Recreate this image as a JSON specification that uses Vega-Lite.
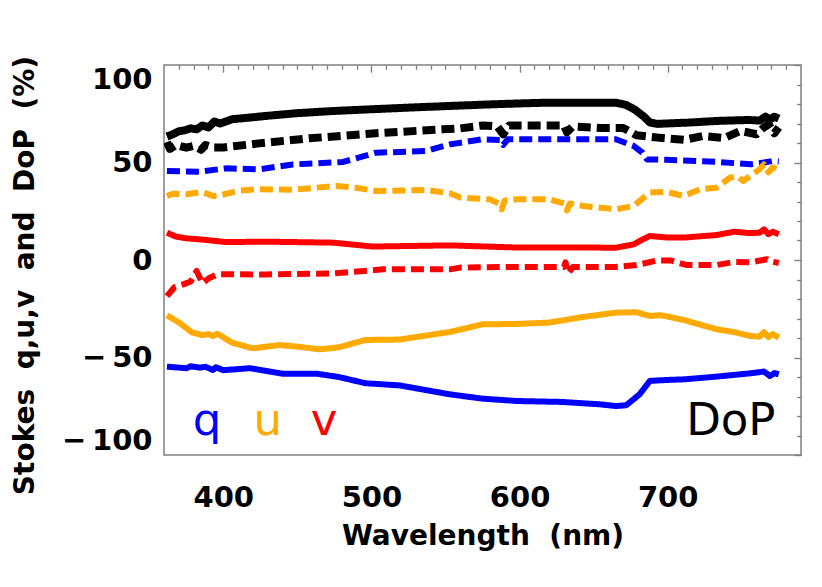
{
  "$schema": "https://vega.github.io/schema/vega-lite/v6.json",
  "width": 637,
  "height": 390,
  "autosize": "none",
  "padding": {"left": 164, "top": 65, "right": 21, "bottom": 132},
  "background": "white",
  "config": {
    "view": {"stroke": "#808080", "strokeWidth": 1.5},
    "axis": {"grid": false, "domain": false, "tickColor": "#808080", "tickWidth": 1.2,
             "labelFont": "DejaVu Sans", "labelFontWeight": "bold", "labelFontSize": 29, "labelColor": "black",
             "titleFont": "DejaVu Sans", "titleFontWeight": "bold", "titleFontSize": 28, "titleColor": "black"}
  },
  "datasets": {
    "lines": [
      {"wl":362,"val":63.3,"param":"DoP","set":"a"},{"wl":366,"val":64.5,"param":"DoP","set":"a"},{"wl":370,"val":66,"param":"DoP","set":"a"},{"wl":374,"val":66.5,"param":"DoP","set":"a"},{"wl":378,"val":67.5,"param":"DoP","set":"a"},{"wl":382,"val":67,"param":"DoP","set":"a"},{"wl":386,"val":69,"param":"DoP","set":"a"},{"wl":390,"val":68,"param":"DoP","set":"a"},{"wl":394,"val":71,"param":"DoP","set":"a"},{"wl":398,"val":70,"param":"DoP","set":"a"},{"wl":406,"val":72.2,"param":"DoP","set":"a"},{"wl":420,"val":73.2,"param":"DoP","set":"a"},{"wl":429,"val":73.9,"param":"DoP","set":"a"},{"wl":450,"val":75.3,"param":"DoP","set":"a"},{"wl":474,"val":76.4,"param":"DoP","set":"a"},{"wl":500,"val":77.3,"param":"DoP","set":"a"},{"wl":530,"val":78.3,"param":"DoP","set":"a"},{"wl":553,"val":79,"param":"DoP","set":"a"},{"wl":580,"val":79.8,"param":"DoP","set":"a"},{"wl":600,"val":80.3,"param":"DoP","set":"a"},{"wl":620,"val":80.7,"param":"DoP","set":"a"},{"wl":640,"val":80.7,"param":"DoP","set":"a"},{"wl":665,"val":80.7,"param":"DoP","set":"a"},{"wl":672,"val":79.5,"param":"DoP","set":"a"},{"wl":678,"val":77,"param":"DoP","set":"a"},{"wl":684,"val":73.5,"param":"DoP","set":"a"},{"wl":688,"val":70.5,"param":"DoP","set":"a"},{"wl":693,"val":69.8,"param":"DoP","set":"a"},{"wl":699,"val":70,"param":"DoP","set":"a"},{"wl":715,"val":70.5,"param":"DoP","set":"a"},{"wl":733,"val":71.3,"param":"DoP","set":"a"},{"wl":745,"val":71.6,"param":"DoP","set":"a"},{"wl":755,"val":71.8,"param":"DoP","set":"a"},{"wl":762,"val":71.5,"param":"DoP","set":"a"},{"wl":766,"val":73.5,"param":"DoP","set":"a"},{"wl":769,"val":72,"param":"DoP","set":"a"},{"wl":772,"val":73.5,"param":"DoP","set":"a"},{"wl":775,"val":72.5,"param":"DoP","set":"a"},

      {"wl":362,"val":60.5,"param":"DoP","set":"b"},{"wl":364,"val":57,"param":"DoP","set":"b"},{"wl":368,"val":59,"param":"DoP","set":"b"},{"wl":375,"val":57.6,"param":"DoP","set":"b"},{"wl":380,"val":58.5,"param":"DoP","set":"b"},{"wl":385,"val":56.5,"param":"DoP","set":"b"},{"wl":388,"val":59,"param":"DoP","set":"b"},{"wl":393,"val":57.7,"param":"DoP","set":"b"},{"wl":400,"val":57.7,"param":"DoP","set":"b"},{"wl":424,"val":59.8,"param":"DoP","set":"b"},{"wl":458,"val":62.4,"param":"DoP","set":"b"},{"wl":503,"val":65,"param":"DoP","set":"b"},{"wl":548,"val":67,"param":"DoP","set":"b"},{"wl":560,"val":67.5,"param":"DoP","set":"b"},{"wl":575,"val":69,"param":"DoP","set":"b"},{"wl":585,"val":68.5,"param":"DoP","set":"b"},{"wl":589,"val":64.5,"param":"DoP","set":"b"},{"wl":593,"val":69,"param":"DoP","set":"b"},{"wl":620,"val":69,"param":"DoP","set":"b"},{"wl":630,"val":69,"param":"DoP","set":"b"},{"wl":632,"val":65.5,"param":"DoP","set":"b"},{"wl":636,"val":68.5,"param":"DoP","set":"b"},{"wl":655,"val":67.7,"param":"DoP","set":"b"},{"wl":670,"val":67.7,"param":"DoP","set":"b"},{"wl":679,"val":64,"param":"DoP","set":"b"},{"wl":693,"val":62.8,"param":"DoP","set":"b"},{"wl":711,"val":61.6,"param":"DoP","set":"b"},{"wl":724,"val":63.6,"param":"DoP","set":"b"},{"wl":738,"val":62.5,"param":"DoP","set":"b"},{"wl":749,"val":66.2,"param":"DoP","set":"b"},{"wl":760,"val":64.5,"param":"DoP","set":"b"},{"wl":765,"val":68,"param":"DoP","set":"b"},{"wl":768,"val":69.6,"param":"DoP","set":"b"},{"wl":772,"val":65,"param":"DoP","set":"b"},{"wl":775,"val":68,"param":"DoP","set":"b"},

      {"wl":362,"val":45.6,"param":"q","set":"b"},{"wl":384,"val":45.3,"param":"q","set":"b"},{"wl":402,"val":47,"param":"q","set":"b"},{"wl":424,"val":46.5,"param":"q","set":"b"},{"wl":447,"val":49,"param":"q","set":"b"},{"wl":481,"val":50.3,"param":"q","set":"b"},{"wl":503,"val":55,"param":"q","set":"b"},{"wl":537,"val":55.9,"param":"q","set":"b"},{"wl":553,"val":59.3,"param":"q","set":"b"},{"wl":575,"val":61.9,"param":"q","set":"b"},{"wl":587,"val":61.5,"param":"q","set":"b"},{"wl":589,"val":59,"param":"q","set":"b"},{"wl":592,"val":61.9,"param":"q","set":"b"},{"wl":620,"val":61.9,"param":"q","set":"b"},{"wl":665,"val":61.9,"param":"q","set":"b"},{"wl":677,"val":58.5,"param":"q","set":"b"},{"wl":683,"val":55,"param":"q","set":"b"},{"wl":686,"val":51.6,"param":"q","set":"b"},{"wl":699,"val":51.4,"param":"q","set":"b"},{"wl":733,"val":50.3,"param":"q","set":"b"},{"wl":756,"val":49.1,"param":"q","set":"b"},{"wl":765,"val":50,"param":"q","set":"b"},{"wl":771,"val":50.8,"param":"q","set":"b"},{"wl":775,"val":50.5,"param":"q","set":"b"},

      {"wl":362,"val":32.8,"param":"u","set":"b"},{"wl":366,"val":34,"param":"u","set":"b"},{"wl":375,"val":33.7,"param":"u","set":"b"},{"wl":386,"val":34.9,"param":"u","set":"b"},{"wl":393,"val":32.8,"param":"u","set":"b"},{"wl":397,"val":33,"param":"u","set":"b"},{"wl":410,"val":35.5,"param":"u","set":"b"},{"wl":424,"val":36.3,"param":"u","set":"b"},{"wl":447,"val":36,"param":"u","set":"b"},{"wl":476,"val":38,"param":"u","set":"b"},{"wl":490,"val":37,"param":"u","set":"b"},{"wl":503,"val":35.4,"param":"u","set":"b"},{"wl":537,"val":35.9,"param":"u","set":"b"},{"wl":553,"val":34.2,"param":"u","set":"b"},{"wl":560,"val":32,"param":"u","set":"b"},{"wl":580,"val":31.1,"param":"u","set":"b"},{"wl":586,"val":29,"param":"u","set":"b"},{"wl":588,"val":26,"param":"u","set":"b"},{"wl":590,"val":30.5,"param":"u","set":"b"},{"wl":598,"val":31.1,"param":"u","set":"b"},{"wl":620,"val":31.1,"param":"u","set":"b"},{"wl":630,"val":29,"param":"u","set":"b"},{"wl":632,"val":25.5,"param":"u","set":"b"},{"wl":634,"val":29,"param":"u","set":"b"},{"wl":643,"val":27.7,"param":"u","set":"b"},{"wl":665,"val":26,"param":"u","set":"b"},{"wl":677,"val":27.7,"param":"u","set":"b"},{"wl":688,"val":34.6,"param":"u","set":"b"},{"wl":699,"val":35,"param":"u","set":"b"},{"wl":711,"val":32.8,"param":"u","set":"b"},{"wl":722,"val":36.3,"param":"u","set":"b"},{"wl":733,"val":37.1,"param":"u","set":"b"},{"wl":742,"val":42.2,"param":"u","set":"b"},{"wl":747,"val":43,"param":"u","set":"b"},{"wl":751,"val":40.5,"param":"u","set":"b"},{"wl":762,"val":46.5,"param":"u","set":"b"},{"wl":765,"val":49,"param":"u","set":"b"},{"wl":768,"val":45,"param":"u","set":"b"},{"wl":771,"val":47.5,"param":"u","set":"b"},{"wl":775,"val":46,"param":"u","set":"b"},

      {"wl":362,"val":14,"param":"v","set":"a"},{"wl":368,"val":12,"param":"v","set":"a"},{"wl":375,"val":11.1,"param":"v","set":"a"},{"wl":384,"val":10.6,"param":"v","set":"a"},{"wl":402,"val":9.2,"param":"v","set":"a"},{"wl":429,"val":9.4,"param":"v","set":"a"},{"wl":474,"val":8.9,"param":"v","set":"a"},{"wl":501,"val":6.9,"param":"v","set":"a"},{"wl":553,"val":7.5,"param":"v","set":"a"},{"wl":598,"val":6.4,"param":"v","set":"a"},{"wl":643,"val":6.4,"param":"v","set":"a"},{"wl":665,"val":6.3,"param":"v","set":"a"},{"wl":677,"val":8,"param":"v","set":"a"},{"wl":683,"val":10.5,"param":"v","set":"a"},{"wl":688,"val":12.3,"param":"v","set":"a"},{"wl":700,"val":11.5,"param":"v","set":"a"},{"wl":711,"val":11.5,"param":"v","set":"a"},{"wl":733,"val":12.8,"param":"v","set":"a"},{"wl":745,"val":14.5,"param":"v","set":"a"},{"wl":755,"val":13.8,"param":"v","set":"a"},{"wl":762,"val":14,"param":"v","set":"a"},{"wl":765,"val":15.7,"param":"v","set":"a"},{"wl":768,"val":13.2,"param":"v","set":"a"},{"wl":771,"val":14.5,"param":"v","set":"a"},{"wl":775,"val":13.2,"param":"v","set":"a"},

      {"wl":362,"val":-18.5,"param":"v","set":"b"},{"wl":367,"val":-14,"param":"v","set":"b"},{"wl":373,"val":-12.5,"param":"v","set":"b"},{"wl":378,"val":-11,"param":"v","set":"b"},{"wl":382,"val":-5.6,"param":"v","set":"b"},{"wl":386,"val":-12,"param":"v","set":"b"},{"wl":390,"val":-9.5,"param":"v","set":"b"},{"wl":396,"val":-7.3,"param":"v","set":"b"},{"wl":429,"val":-7.4,"param":"v","set":"b"},{"wl":474,"val":-6.9,"param":"v","set":"b"},{"wl":508,"val":-4.8,"param":"v","set":"b"},{"wl":553,"val":-4.8,"param":"v","set":"b"},{"wl":560,"val":-3.9,"param":"v","set":"b"},{"wl":587,"val":-3.6,"param":"v","set":"b"},{"wl":630,"val":-3.6,"param":"v","set":"b"},{"wl":631,"val":-1.2,"param":"v","set":"b"},{"wl":633,"val":-6.8,"param":"v","set":"b"},{"wl":636,"val":-3.6,"param":"v","set":"b"},{"wl":665,"val":-3.6,"param":"v","set":"b"},{"wl":679,"val":-2.6,"param":"v","set":"b"},{"wl":693,"val":-0.2,"param":"v","set":"b"},{"wl":702,"val":-0.2,"param":"v","set":"b"},{"wl":713,"val":-2.6,"param":"v","set":"b"},{"wl":733,"val":-2.6,"param":"v","set":"b"},{"wl":745,"val":-1,"param":"v","set":"b"},{"wl":756,"val":-1.2,"param":"v","set":"b"},{"wl":767,"val":0.4,"param":"v","set":"b"},{"wl":770,"val":-0.8,"param":"v","set":"b"},{"wl":775,"val":-1.5,"param":"v","set":"b"},

      {"wl":362,"val":-28.4,"param":"u","set":"a"},{"wl":370,"val":-32,"param":"u","set":"a"},{"wl":379,"val":-37.2,"param":"u","set":"a"},{"wl":386,"val":-38.5,"param":"u","set":"a"},{"wl":390,"val":-38,"param":"u","set":"a"},{"wl":393,"val":-39,"param":"u","set":"a"},{"wl":396,"val":-37.8,"param":"u","set":"a"},{"wl":406,"val":-42.4,"param":"u","set":"a"},{"wl":420,"val":-45.3,"param":"u","set":"a"},{"wl":438,"val":-43.6,"param":"u","set":"a"},{"wl":451,"val":-44.5,"param":"u","set":"a"},{"wl":465,"val":-45.8,"param":"u","set":"a"},{"wl":478,"val":-44.8,"param":"u","set":"a"},{"wl":496,"val":-41,"param":"u","set":"a"},{"wl":519,"val":-40.8,"param":"u","set":"a"},{"wl":553,"val":-36.9,"param":"u","set":"a"},{"wl":575,"val":-33,"param":"u","set":"a"},{"wl":598,"val":-32.8,"param":"u","set":"a"},{"wl":620,"val":-32.1,"param":"u","set":"a"},{"wl":643,"val":-29.2,"param":"u","set":"a"},{"wl":665,"val":-27,"param":"u","set":"a"},{"wl":679,"val":-26.8,"param":"u","set":"a"},{"wl":688,"val":-28.7,"param":"u","set":"a"},{"wl":695,"val":-28.3,"param":"u","set":"a"},{"wl":700,"val":-29,"param":"u","set":"a"},{"wl":711,"val":-30.8,"param":"u","set":"a"},{"wl":733,"val":-35.5,"param":"u","set":"a"},{"wl":745,"val":-37,"param":"u","set":"a"},{"wl":756,"val":-39,"param":"u","set":"a"},{"wl":762,"val":-39.3,"param":"u","set":"a"},{"wl":765,"val":-37,"param":"u","set":"a"},{"wl":768,"val":-39.5,"param":"u","set":"a"},{"wl":771,"val":-38,"param":"u","set":"a"},{"wl":775,"val":-39.8,"param":"u","set":"a"},

      {"wl":362,"val":-54.7,"param":"q","set":"a"},{"wl":375,"val":-55.5,"param":"q","set":"a"},{"wl":378,"val":-54.5,"param":"q","set":"a"},{"wl":384,"val":-55.2,"param":"q","set":"a"},{"wl":388,"val":-54.8,"param":"q","set":"a"},{"wl":393,"val":-56.4,"param":"q","set":"a"},{"wl":395,"val":-55,"param":"q","set":"a"},{"wl":400,"val":-56.5,"param":"q","set":"a"},{"wl":418,"val":-55.5,"param":"q","set":"a"},{"wl":440,"val":-58.3,"param":"q","set":"a"},{"wl":463,"val":-58.3,"param":"q","set":"a"},{"wl":478,"val":-60,"param":"q","set":"a"},{"wl":496,"val":-63.2,"param":"q","set":"a"},{"wl":519,"val":-64.3,"param":"q","set":"a"},{"wl":553,"val":-68.9,"param":"q","set":"a"},{"wl":575,"val":-71.1,"param":"q","set":"a"},{"wl":598,"val":-72.3,"param":"q","set":"a"},{"wl":629,"val":-72.8,"param":"q","set":"a"},{"wl":654,"val":-74,"param":"q","set":"a"},{"wl":665,"val":-74.9,"param":"q","set":"a"},{"wl":672,"val":-74.5,"param":"q","set":"a"},{"wl":681,"val":-68.9,"param":"q","set":"a"},{"wl":688,"val":-62,"param":"q","set":"a"},{"wl":700,"val":-61.5,"param":"q","set":"a"},{"wl":711,"val":-61.2,"param":"q","set":"a"},{"wl":733,"val":-59.8,"param":"q","set":"a"},{"wl":756,"val":-58.1,"param":"q","set":"a"},{"wl":765,"val":-57.2,"param":"q","set":"a"},{"wl":769,"val":-59.5,"param":"q","set":"a"},{"wl":772,"val":-58,"param":"q","set":"a"},{"wl":775,"val":-58.6,"param":"q","set":"a"}
    ],
    "labels": [
      {"wl":389,"val":-89.5,"txt":"q","param":"q"},
      {"wl":430,"val":-89.5,"txt":"u","param":"u"},
      {"wl":468,"val":-89.5,"txt":"v","param":"v"},
      {"wl":742.6,"val":-89.7,"txt":"DoP","param":"DoP"}
    ]
  },
  "resolve": {"axis": {"x": "independent", "y": "independent"}},
  "layer": [
    {
      "data": {"name": "lines"},
      "transform": [{"filter": "datum.param !== 'DoP'"}],
      "mark": {"type": "line", "strokeJoin": "round", "clip": true, "strokeWidth": 6},
      "encoding": {
        "x": {"field": "wl", "type": "quantitative",
              "scale": {"domain": [360, 790], "nice": false, "zero": false},
              "axis": {"values": [400, 500, 600, 700], "ticks": false, "labelPadding": 51, "labelBaseline": "alphabetic",
                       "title": "Wavelength\u00a0\u00a0(nm)", "titleBaseline": "alphabetic", "titleY": 89}},
        "y": {"field": "val", "type": "quantitative",
              "scale": {"domain": [-100, 100], "nice": false, "zero": false},
              "axis": {"values": [-100, -50, 0, 50, 100], "ticks": false, "labelPadding": 12, "labelFlush": true,
                       "labelExpr": "datum.value < 0 ? '\u2212\u2009' + format(-datum.value, 'd') : format(datum.value, 'd')",
                       "title": "Stokes\u00a0\u00a0q,u,v\u00a0\u00a0and\u00a0\u00a0DoP\u00a0\u00a0(%)", "titleAngle": -90, "titleBaseline": "alphabetic", "titleX": -131, "titleY": 210}},
        "color": {"field": "param", "type": "nominal",
                  "scale": {"domain": ["q", "u", "v", "DoP"], "range": ["#0000ff", "#ffaa00", "#ff0000", "#000000"]}, "legend": null},
        "strokeDash": {"field": "set", "type": "nominal",
                       "scale": {"domain": ["a", "b"], "range": [[1, 0], [13, 6]]}, "legend": null}
      }
    },
    {
      "data": {"name": "lines"},
      "transform": [{"filter": "datum.param === 'DoP'"}],
      "mark": {"type": "line", "strokeJoin": "round", "clip": true, "strokeWidth": 8, "color": "#000000"},
      "encoding": {
        "x": {"field": "wl", "type": "quantitative", "axis": null},
        "y": {"field": "val", "type": "quantitative", "axis": null},
        "strokeDash": {"field": "set", "type": "nominal",
                       "scale": {"domain": ["a", "b"], "range": [[1, 0], [10, 8]]}, "legend": null}
      }
    },
    {
      "data": {"name": "labels"},
      "mark": {"type": "text", "font": "DejaVu Sans", "fontSize": 45, "align": "center", "baseline": "alphabetic"},
      "encoding": {
        "x": {"field": "wl", "type": "quantitative", "axis": null},
        "y": {"field": "val", "type": "quantitative", "axis": null},
        "text": {"field": "txt"},
        "color": {"field": "param", "type": "nominal", "legend": null}
      }
    },
    {
      "data": {"name": "labels"},
      "mark": {"type": "point", "opacity": 0},
      "encoding": {
        "x": {"field": "wl", "type": "quantitative",
              "axis": {"values": [400, 500, 600, 700], "tickSize": -7, "labels": false, "title": null}},
        "y": {"field": "val", "type": "quantitative",
              "axis": {"values": [-100, -50, 0, 50, 100], "tickSize": -7, "labels": false, "title": null}}
      }
    },
    {
      "data": {"name": "labels"},
      "mark": {"type": "point", "opacity": 0},
      "encoding": {
        "x": {"field": "wl", "type": "quantitative",
              "axis": {"values": [370,380,390,410,420,430,440,450,460,470,480,490,510,520,530,540,550,560,570,580,590,610,620,630,640,650,660,670,680,690,710,720,730,740,750,760,770,780], "tickSize": -4, "labels": false, "title": null}},
        "y": {"field": "val", "type": "quantitative",
              "axis": {"values": [-90,-80,-70,-60,-40,-30,-20,-10,10,20,30,40,60,70,80,90], "tickSize": -4, "labels": false, "title": null}}
      }
    },
    {
      "data": {"name": "labels"},
      "mark": {"type": "point", "opacity": 0},
      "encoding": {
        "x": {"field": "wl", "type": "quantitative",
              "axis": {"orient": "top", "values": [400, 500, 600, 700], "tickSize": -7, "labels": false, "title": null}},
        "y": {"field": "val", "type": "quantitative",
              "axis": {"orient": "right", "values": [-100, -50, 0, 50, 100], "tickSize": -7, "labels": false, "title": null}}
      }
    },
    {
      "data": {"name": "labels"},
      "mark": {"type": "point", "opacity": 0},
      "encoding": {
        "x": {"field": "wl", "type": "quantitative",
              "axis": {"orient": "top", "values": [370,380,390,410,420,430,440,450,460,470,480,490,510,520,530,540,550,560,570,580,590,610,620,630,640,650,660,670,680,690,710,720,730,740,750,760,770,780], "tickSize": -4, "labels": false, "title": null}},
        "y": {"field": "val", "type": "quantitative",
              "axis": {"orient": "right", "values": [-90,-80,-70,-60,-40,-30,-20,-10,10,20,30,40,60,70,80,90], "tickSize": -4, "labels": false, "title": null}}
      }
    }
  ]
}
